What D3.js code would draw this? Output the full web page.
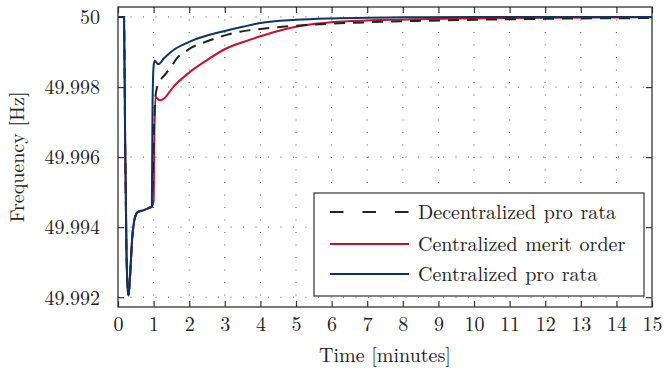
<!DOCTYPE html>
<html>
<head>
    <meta http-equiv="Content-Type" content="text/html;charset=utf8" />
    <title>Frequency response</title>
    <script src="https://d3js.org/d3.v7.min.js"></script>
    <style>
        body { margin: 0; background: #fff; }
    </style>
</head>
<body>
<div id="chart"></div>
<script>
    // shared initial dip (all three strategies identical until ~0.95 min)
    var dipTime = [0, 0.17, 0.2, 0.24, 0.27, 0.29, 0.32, 0.36, 0.4, 0.45, 0.51, 0.57, 0.71, 0.9, 0.95];
    var dipFreq = [50, 50, 49.9965, 49.9932, 49.9923, 49.99205, 49.9923, 49.9930, 49.9937, 49.99415, 49.99437, 49.99444, 49.99448, 49.99456, 49.99458];

    // recovery after the dip
    var decTime = [1.0, 1.05, 1.1, 1.35, 1.52, 1.65, 1.88, 2.07, 2.35, 2.77, 3.05, 3.43, 4, 5, 6, 7, 8.5, 10, 12, 15];
    var decFreq = [49.9965, 49.9977, 49.998, 49.99839, 49.99862, 49.99882, 49.999, 49.99913, 49.99925, 49.9994, 49.99949, 49.99958, 49.99966, 49.99975, 49.99981, 49.99985, 49.99989, 49.99992, 49.99995, 49.99997];

    var meritTime = [1.0, 1.02, 1.05, 1.1, 1.18, 1.3, 1.55, 2.02, 2.5, 3, 3.5, 4, 4.5, 5, 5.5, 6, 7, 8.76, 10, 12, 15];
    var meritFreq = [49.99475, 49.9965, 49.99771, 49.99768, 49.99762, 49.99768, 49.998, 49.99843, 49.99877, 49.99908, 49.99928, 49.99945, 49.9996, 49.99972, 49.9998, 49.99985, 49.9999, 49.99994, 49.99996, 49.99998, 49.99999];

    var proTime = [0.97, 1.0, 1.03, 1.13, 1.3, 1.55, 2.0, 2.5, 3.0, 3.5, 4, 5, 6, 7, 8, 10, 15];
    var proFreq = [49.9975, 49.9986, 49.99875, 49.99865, 49.99883, 49.99905, 49.99929, 49.99947, 49.9996, 49.99972, 49.99983, 49.99992, 49.99996, 49.99998, 49.99999, 50, 50];

    var xTicks = d3.range(0, 16);
    var yTicks = [49.992, 49.994, 49.996, 49.998, 50];

    var seriesNames = ["Decentralized pro rata", "Centralized merit order", "Centralized pro rata"];
    var seriesColors = ["#222222", "#c8102e", "#0b3566"];

    var FONT = "Latin Modern Roman";

    function join(t, f) {
        return dipTime.map(function(d, i) { return [d, dipFreq[i]]; })
            .concat(t.map(function(d, i) { return [d, f[i]]; }));
    }
    var series = [join(decTime, decFreq), join(meritTime, meritFreq), join(proTime, proFreq)];

    var W = 665, H = 375;
    var m = {left: 118, right: 13, top: 7, bottom: 68};
    var iw = W - m.left - m.right, ih = H - m.top - m.bottom;

    var svg = d3.select("#chart").append("svg").attr("width", W).attr("height", H);
    var g = svg.append("g").attr("transform", "translate(" + m.left + "," + m.top + ")");

    var x = d3.scaleLinear().domain([0, 15]).range([0, iw]);
    var y = d3.scaleLinear().domain([49.99172, 50.000286]).range([ih, 0]);

    // dotted grid
    g.append("g").selectAll("line").data(xTicks.slice(1, -1)).enter().append("line")
        .attr("x1", function(d) { return x(d); }).attr("x2", function(d) { return x(d); })
        .attr("y1", 0).attr("y2", ih)
        .attr("stroke", "#555").attr("stroke-width", 1).attr("stroke-dasharray", "1,11.5");
    g.append("g").selectAll("line").data(yTicks).enter().append("line")
        .attr("y1", function(d) { return y(d); }).attr("y2", function(d) { return y(d); })
        .attr("x1", 0).attr("x2", iw)
        .attr("stroke", "#555").attr("stroke-width", 1).attr("stroke-dasharray", "1,11.5");

    // axes with inward ticks on all four sides
    g.append("g").attr("transform", "translate(0," + ih + ")")
        .call(d3.axisBottom(x).tickValues(xTicks).tickSize(-6).tickPadding(10).tickFormat(d3.format("d")));
    g.append("g").call(d3.axisTop(x).tickValues(xTicks).tickSize(-6).tickFormat(""));
    var ay = g.append("g")
        .call(d3.axisLeft(y).tickValues(yTicks).tickSize(-6).tickPadding(18)
            .tickFormat(function(d) { return d === 50 ? "50" : d3.format(".3f")(d); }));
    g.append("g").attr("transform", "translate(" + iw + ",0)")
        .call(d3.axisRight(y).tickValues(yTicks).tickSize(-6).tickFormat(""));

    g.selectAll(".domain").remove();
    g.selectAll(".tick line").attr("stroke", "#333").attr("stroke-width", 1.2);
    g.selectAll(".tick text").attr("font-family", FONT).attr("font-size", 20).attr("fill", "#222");
    ay.selectAll(".tick text").attr("dy", "0.34em");

    var line = d3.line()
        .x(function(d) { return x(d[0]); })
        .y(function(d) { return y(d[1]); })
        .curve(d3.curveMonotoneX);

    svg.append("clipPath").attr("id", "clip").append("rect")
        .attr("width", iw).attr("height", ih);
    var lines = g.append("g").attr("clip-path", "url(#clip)");

    // draw order: red, black dashed, blue on top
    [1, 0, 2].forEach(function(i) {
        lines.append("path")
            .datum(series[i])
            .attr("d", line)
            .attr("fill", "none")
            .attr("stroke", seriesColors[i])
            .attr("stroke-width", 2)
            .attr("stroke-dasharray", i === 0 ? "11,8" : null);
    });

    // frame
    g.append("rect").attr("width", iw).attr("height", ih)
        .attr("fill", "none").attr("stroke", "#333").attr("stroke-width", 1.3);

    // legend
    var lg = svg.append("g");
    lg.append("rect").attr("x", 314).attr("y", 193).attr("width", 330).attr("height", 103)
        .attr("fill", "#fff").attr("stroke", "#333").attr("stroke-width", 1.2);
    var rowsY = [212, 244, 274];
    seriesNames.forEach(function(name, i) {
        lg.append("line").attr("x1", 330).attr("x2", 409)
            .attr("y1", rowsY[i]).attr("y2", rowsY[i])
            .attr("stroke", seriesColors[i]).attr("stroke-width", 2)
            .attr("stroke-dasharray", i === 0 ? "13.5,19" : null);
        lg.append("text").attr("x", 418).attr("y", rowsY[i]).attr("dy", "0.34em")
            .attr("font-family", FONT).attr("font-size", 20).attr("word-spacing", 1)
            .attr("fill", "#222").text(name);
    });

    // axis titles
    svg.append("text").attr("x", m.left + iw / 2).attr("y", 362)
        .attr("text-anchor", "middle").attr("font-family", FONT).attr("font-size", 20)
        .attr("fill", "#222").text("Time [minutes]");
    svg.append("text").attr("transform", "translate(24," + (m.top + ih / 2) + ") rotate(-90)")
        .attr("text-anchor", "middle").attr("font-family", FONT).attr("font-size", 20)
        .attr("fill", "#222").text("Frequency [Hz]");
</script>
</body>
</html>
